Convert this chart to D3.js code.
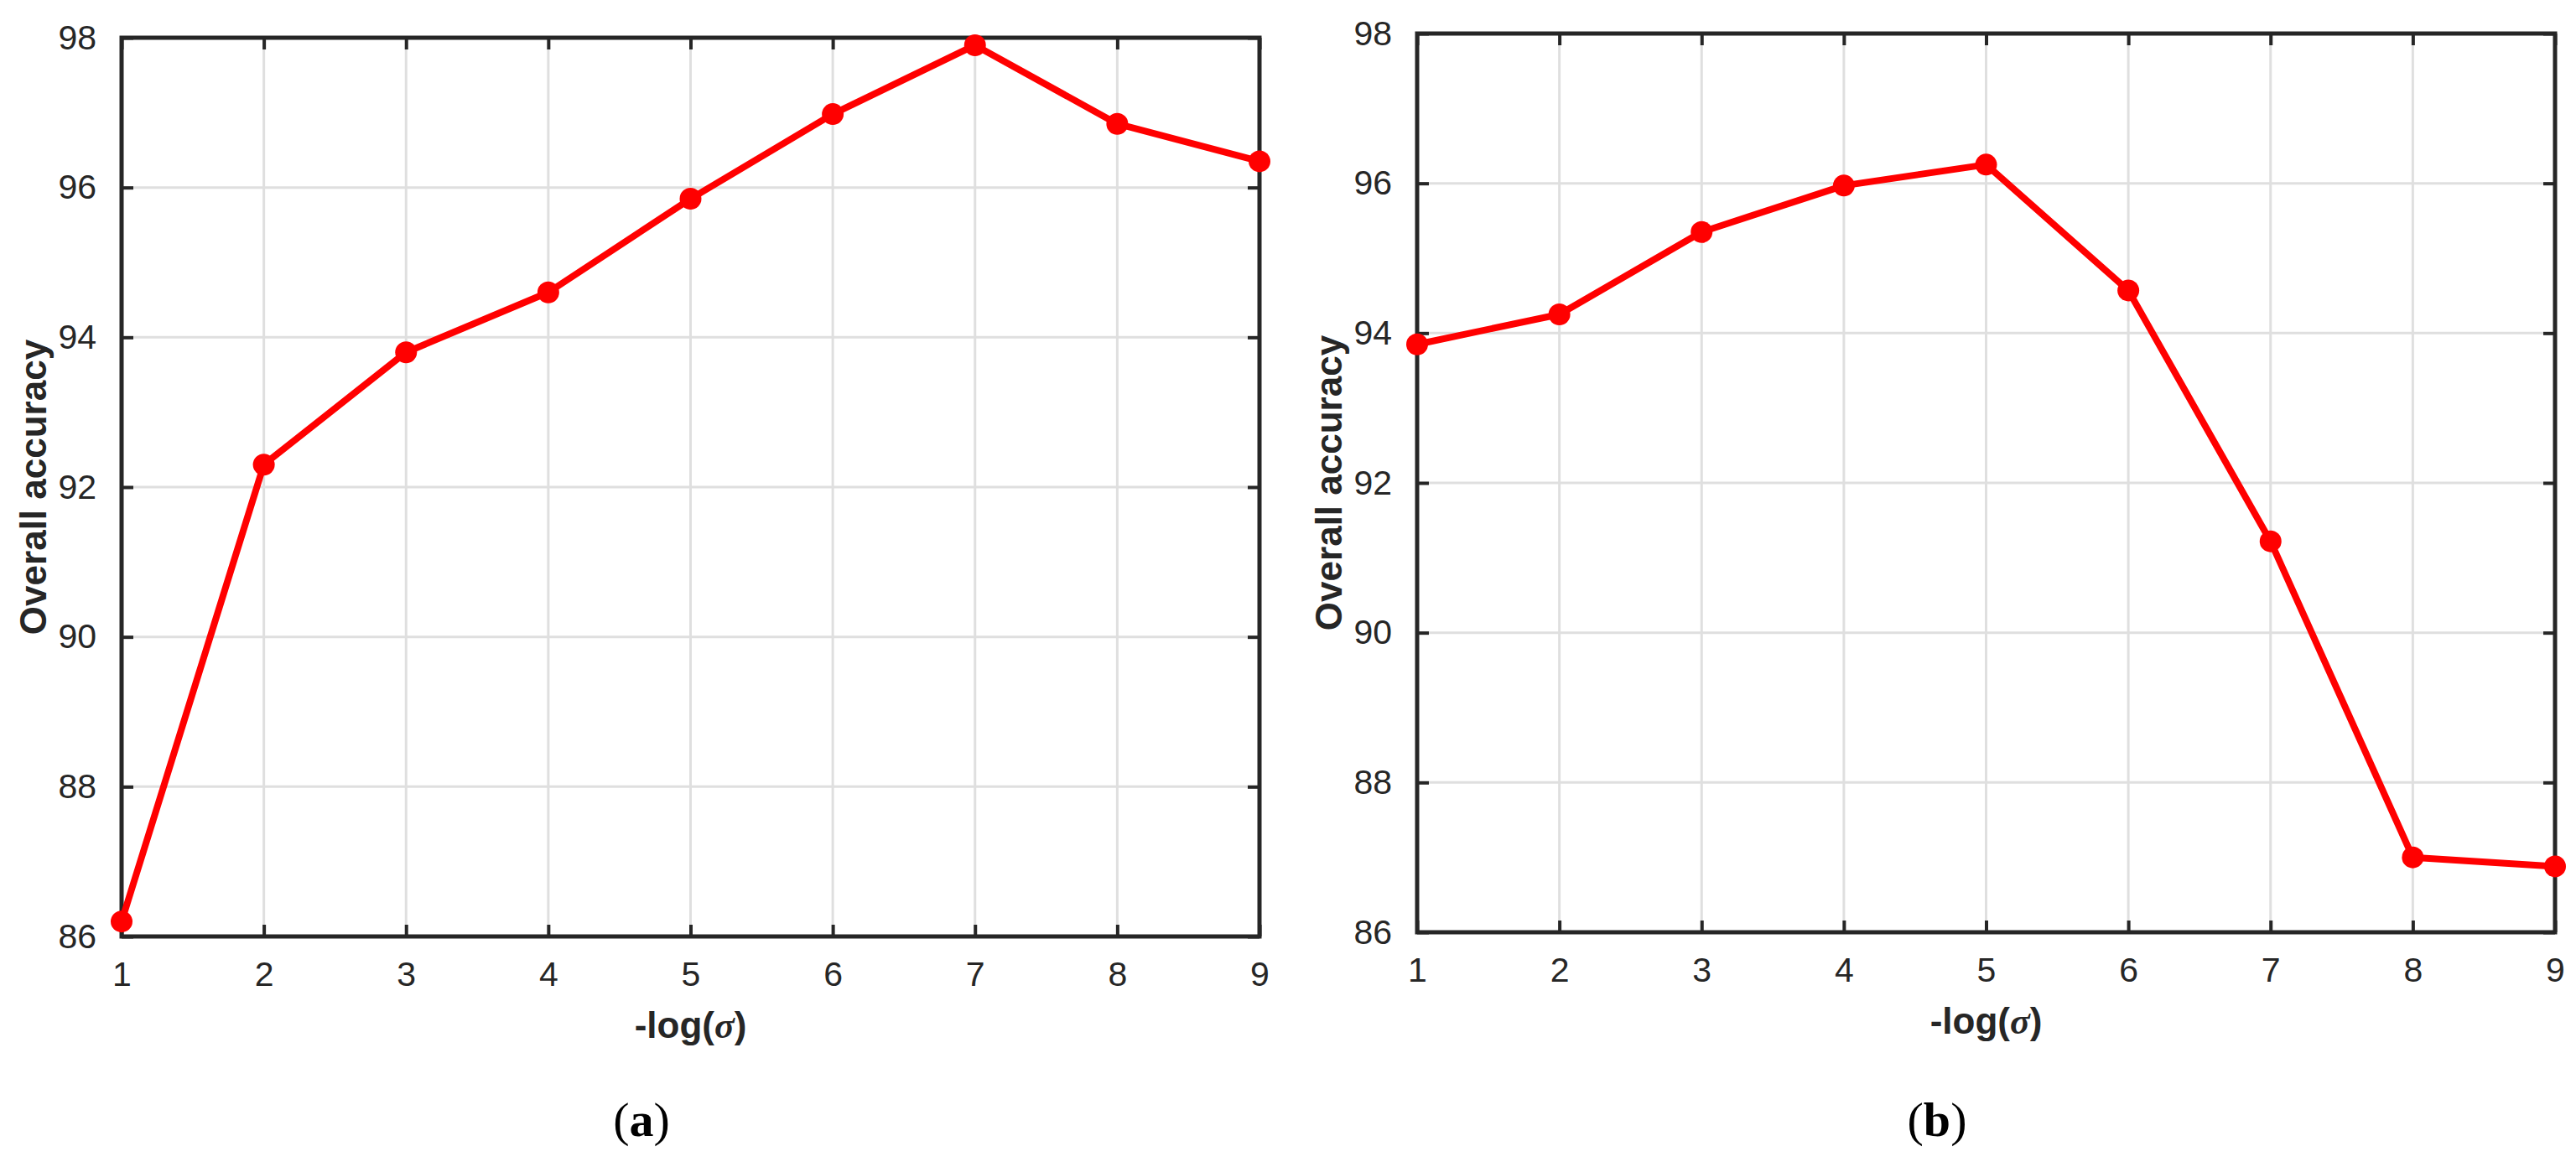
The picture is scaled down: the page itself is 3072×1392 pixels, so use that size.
<!DOCTYPE html>
<html><head><meta charset="utf-8">
<script src="https://cdn.jsdelivr.net/npm/d3@7"></script>
<style>body{margin:0;background:#fff}</style>
</head><body>
<svg id="c" width="3072" height="1392"></svg>
<script>
const xValues = [1,2,3,4,5,6,7,8,9];
const seriesA = [86.2,92.3,93.8,94.6,95.85,96.98,97.9,96.85,96.35];
const seriesB = [93.85,94.25,95.35,95.97,96.25,94.57,91.22,87.0,86.88];
const yTicks = [86,88,90,92,94,96,98];
const xLabel = "-log(", sigma = "σ";
const yLabel = "Overall accuracy";
const panels = [
  {data: seriesA, left:145, right:1502, top:45, bottom:1117, cap:"a", capX:765},
  {data: seriesB, left:1690, right:3047, top:40, bottom:1112, cap:"b", capX:2310}
];
const svg = d3.select("#c");
const ax = "#262626";
panels.forEach(p=>{
  const x = d3.scaleLinear().domain([1,9]).range([p.left,p.right]);
  const y = d3.scaleLinear().domain([86,98]).range([p.bottom,p.top]);
  const g = svg.append("g");
  // grid
  g.selectAll(".gx").data(xValues).join("line").attr("x1",d=>x(d)).attr("x2",d=>x(d))
    .attr("y1",p.top).attr("y2",p.bottom).attr("stroke","#dfdfdf").attr("stroke-width",3);
  g.selectAll(".gy").data(yTicks).join("line").attr("y1",d=>y(d)).attr("y2",d=>y(d))
    .attr("x1",p.left).attr("x2",p.right).attr("stroke","#dfdfdf").attr("stroke-width",3);
  // axes
  const xa = g.append("g").attr("transform",`translate(0,${p.bottom})`)
    .call(d3.axisBottom(x).tickValues(xValues).tickFormat(d3.format("d")).tickSizeInner(-14).tickSizeOuter(0).tickPadding(30));
  const xt = g.append("g").attr("transform",`translate(0,${p.top})`)
    .call(d3.axisTop(x).tickValues(xValues).tickFormat("").tickSizeInner(-14).tickSizeOuter(0));
  const ya = g.append("g").attr("transform",`translate(${p.left},0)`)
    .call(d3.axisLeft(y).tickValues(yTicks).tickSizeInner(-14).tickSizeOuter(0).tickPadding(30));
  const yr = g.append("g").attr("transform",`translate(${p.right},0)`)
    .call(d3.axisRight(y).tickValues(yTicks).tickFormat("").tickSizeInner(-14).tickSizeOuter(0));
  [xa,xt,ya,yr].forEach(a=>{
    a.select(".domain").remove();
    a.selectAll("line").attr("stroke",ax).attr("stroke-width",4);
    a.selectAll("text").attr("fill",ax).style("font-family","Liberation Sans, Arial, sans-serif").style("font-size","41px");
  });
  g.append("rect").attr("x",p.left).attr("y",p.top).attr("width",p.right-p.left).attr("height",p.bottom-p.top)
    .attr("fill","none").attr("stroke",ax).attr("stroke-width",5);
  // line
  const line = d3.line().x((d,i)=>x(xValues[i])).y(d=>y(d));
  g.append("path").datum(p.data).attr("d",line).attr("fill","none").attr("stroke","#ff0000")
    .attr("stroke-width",8).attr("stroke-linejoin","round");
  g.selectAll(".pt").data(p.data).join("circle").attr("cx",(d,i)=>x(xValues[i])).attr("cy",d=>y(d))
    .attr("r",13).attr("fill","#ff0000");
  // labels
  const xl = g.append("text").attr("x",(p.left+p.right)/2).attr("y",p.bottom+121).attr("text-anchor","middle")
    .attr("fill",ax).style("font-family","Liberation Sans, Arial, sans-serif").style("font-size","44px").style("font-weight","bold");
  xl.append("tspan").text(xLabel);
  xl.append("tspan").text(sigma).style("font-style","italic").style("font-family","Liberation Serif, serif");
  xl.append("tspan").text(")");
  g.append("text").attr("transform",`translate(${p.left-90},${(p.top+p.bottom)/2}) rotate(-90)`)
    .attr("text-anchor","middle").attr("fill",ax).style("font-family","Liberation Sans, Arial, sans-serif")
    .style("font-size","44px").style("font-weight","bold").text(yLabel);
  const cap = g.append("text").attr("x",p.capX).attr("y",1355).attr("text-anchor","middle").attr("fill","#000")
    .style("font-family","Liberation Serif, serif").style("font-size","58px");
  cap.append("tspan").text("(");
  cap.append("tspan").text(p.cap).style("font-weight","bold");
  cap.append("tspan").text(")");
});
</script>
</body></html>
